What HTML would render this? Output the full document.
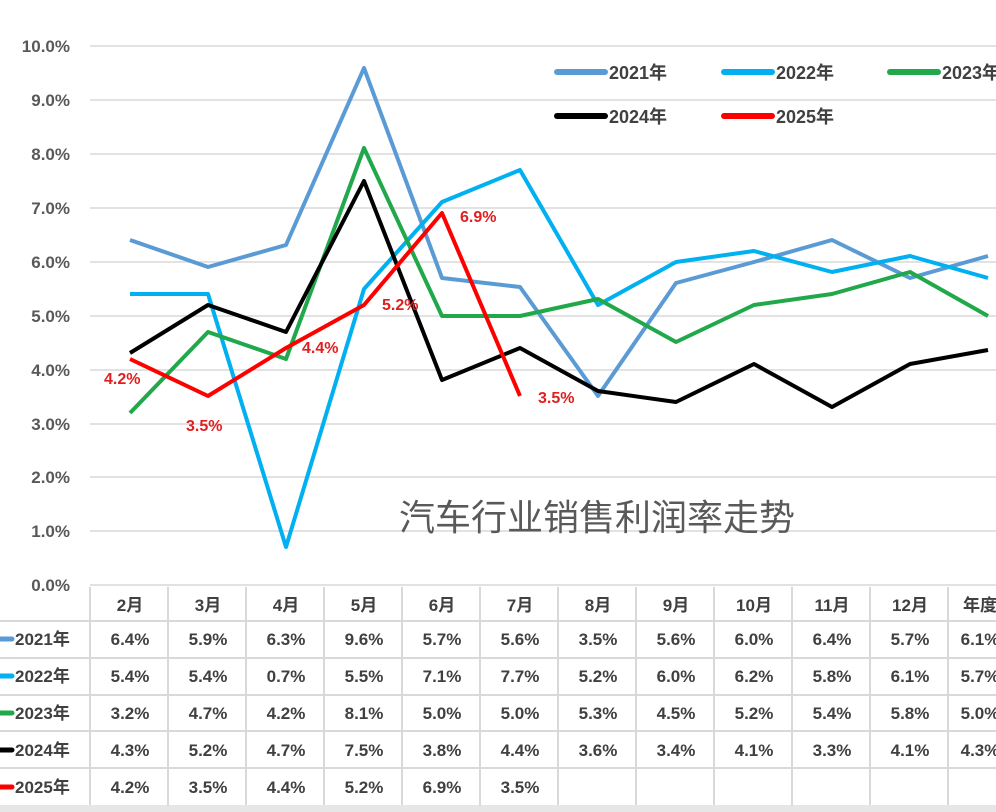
<!DOCTYPE html>
<html><head><meta charset="utf-8"><style>
body{margin:0;background:#fff;width:996px;height:812px;overflow:hidden}
svg{display:block}
text{font-family:"Liberation Sans","Noto Sans CJK SC",sans-serif}
</style></head><body>
<svg width="996" height="812" viewBox="0 0 996 812">
<rect width="996" height="812" fill="#fff"/>
<g stroke="#d9d9d9" stroke-width="1.5">
<line x1="90" y1="46" x2="996" y2="46"/><line x1="90" y1="100" x2="996" y2="100"/>
<line x1="90" y1="154" x2="996" y2="154"/><line x1="90" y1="208" x2="996" y2="208"/>
<line x1="90" y1="262" x2="996" y2="262"/><line x1="90" y1="316" x2="996" y2="316"/>
<line x1="90" y1="370" x2="996" y2="370"/><line x1="90" y1="424" x2="996" y2="424"/>
<line x1="90" y1="477" x2="996" y2="477"/><line x1="90" y1="531" x2="996" y2="531"/>
<line x1="90" y1="585" x2="996" y2="585"/>
</g>
<g font-size="17" font-weight="bold" fill="#595959" text-anchor="end">
<text x="70" y="52">10.0%</text><text x="70" y="106">9.0%</text><text x="70" y="160">8.0%</text>
<text x="70" y="214">7.0%</text><text x="70" y="268">6.0%</text><text x="70" y="322">5.0%</text>
<text x="70" y="376">4.0%</text><text x="70" y="430">3.0%</text><text x="70" y="483">2.0%</text>
<text x="70" y="537">1.0%</text><text x="70" y="591">0.0%</text>
</g>
<text x="597" y="530" font-size="36" fill="#595959" text-anchor="middle">汽车行业销售利润率走势</text>
<g stroke-width="6" stroke-linecap="round">
<line x1="557" y1="72" x2="605" y2="72" stroke="#5b9bd5"/>
<line x1="724" y1="72" x2="772" y2="72" stroke="#00b0f0"/>
<line x1="890" y1="72" x2="938" y2="72" stroke="#20a84a"/>
<line x1="557" y1="116" x2="605" y2="116" stroke="#000"/>
<line x1="724" y1="116" x2="772" y2="116" stroke="#f00"/>
</g>
<g font-size="18" font-weight="bold" fill="#404040">
<text x="609" y="79">2021年</text><text x="776" y="79">2022年</text><text x="942" y="79">2023年</text>
<text x="609" y="123">2024年</text><text x="776" y="123">2025年</text>
</g>
<g fill="none" stroke-width="4" stroke-linejoin="round">
<polyline stroke="#5b9bd5" points="130,240 208,267 286,245 364,68 442,278 520,287 598,396 676,283 754,262 832,240 910,278 988,256"/>
<polyline stroke="#00b0f0" points="130,294 208,294 286,547 364,289 442,202 520,170 598,305 676,262 754,251 832,272 910,256 988,278"/>
<polyline stroke="#20a84a" points="130,413 208,332 286,359 364,148 442,316 520,316 598,299 676,342 754,305 832,294 910,272 988,316"/>
<polyline stroke="#000" points="130,353 208,305 286,332 364,181 442,380 520,348 598,391 676,402 754,364 832,407 910,364 988,350"/>
<polyline stroke="#f00" points="130,359 208,396 286,348 364,305 442,213 520,396"/>
</g>
<g font-size="16" font-weight="bold" fill="#e02020">
<text x="104" y="384">4.2%</text><text x="186" y="431">3.5%</text><text x="302" y="353">4.4%</text>
<text x="382" y="310">5.2%</text><text x="460" y="222">6.9%</text><text x="538" y="403">3.5%</text>
</g>
<g stroke="#d9d9d9" stroke-width="2">
<line x1="0" y1="621" x2="996" y2="621"/><line x1="0" y1="658" x2="996" y2="658"/>
<line x1="0" y1="695" x2="996" y2="695"/><line x1="0" y1="731" x2="996" y2="731"/>
<line x1="0" y1="768" x2="996" y2="768"/>
<line x1="90" y1="587" x2="90" y2="805"/><line x1="168" y1="587" x2="168" y2="805"/>
<line x1="246" y1="587" x2="246" y2="805"/><line x1="324" y1="587" x2="324" y2="805"/>
<line x1="402" y1="587" x2="402" y2="805"/><line x1="480" y1="587" x2="480" y2="805"/>
<line x1="558" y1="587" x2="558" y2="805"/><line x1="636" y1="587" x2="636" y2="805"/>
<line x1="714" y1="587" x2="714" y2="805"/><line x1="792" y1="587" x2="792" y2="805"/>
<line x1="870" y1="587" x2="870" y2="805"/><line x1="948" y1="587" x2="948" y2="805"/>
</g>
<rect x="0" y="805" width="996" height="7" fill="#e6e6e6"/>
<g stroke-width="5" stroke-linecap="round">
<line x1="0" y1="639" x2="12" y2="639" stroke="#5b9bd5"/>
<line x1="0" y1="676" x2="12" y2="676" stroke="#00b0f0"/>
<line x1="0" y1="713" x2="12" y2="713" stroke="#20a84a"/>
<line x1="0" y1="750" x2="12" y2="750" stroke="#000"/>
<line x1="0" y1="787" x2="12" y2="787" stroke="#f00"/>
</g>
<g font-size="17" font-weight="bold" fill="#404040">
<text x="15" y="645">2021年</text><text x="15" y="682">2022年</text><text x="15" y="719">2023年</text>
<text x="15" y="756">2024年</text><text x="15" y="793">2025年</text>
</g>
<g font-size="17" font-weight="bold" fill="#404040" text-anchor="middle">
<text x="130" y="611">2月</text><text x="208" y="611">3月</text><text x="286" y="611">4月</text><text x="364" y="611">5月</text><text x="442" y="611">6月</text><text x="520" y="611">7月</text><text x="598" y="611">8月</text><text x="676" y="611">9月</text><text x="754" y="611">10月</text><text x="832" y="611">11月</text><text x="910" y="611">12月</text><text x="980" y="611">年度</text>
<text x="130" y="645">6.4%</text><text x="208" y="645">5.9%</text><text x="286" y="645">6.3%</text><text x="364" y="645">9.6%</text><text x="442" y="645">5.7%</text><text x="520" y="645">5.6%</text><text x="598" y="645">3.5%</text><text x="676" y="645">5.6%</text><text x="754" y="645">6.0%</text><text x="832" y="645">6.4%</text><text x="910" y="645">5.7%</text><text x="980" y="645">6.1%</text>
<text x="130" y="682">5.4%</text><text x="208" y="682">5.4%</text><text x="286" y="682">0.7%</text><text x="364" y="682">5.5%</text><text x="442" y="682">7.1%</text><text x="520" y="682">7.7%</text><text x="598" y="682">5.2%</text><text x="676" y="682">6.0%</text><text x="754" y="682">6.2%</text><text x="832" y="682">5.8%</text><text x="910" y="682">6.1%</text><text x="980" y="682">5.7%</text>
<text x="130" y="719">3.2%</text><text x="208" y="719">4.7%</text><text x="286" y="719">4.2%</text><text x="364" y="719">8.1%</text><text x="442" y="719">5.0%</text><text x="520" y="719">5.0%</text><text x="598" y="719">5.3%</text><text x="676" y="719">4.5%</text><text x="754" y="719">5.2%</text><text x="832" y="719">5.4%</text><text x="910" y="719">5.8%</text><text x="980" y="719">5.0%</text>
<text x="130" y="756">4.3%</text><text x="208" y="756">5.2%</text><text x="286" y="756">4.7%</text><text x="364" y="756">7.5%</text><text x="442" y="756">3.8%</text><text x="520" y="756">4.4%</text><text x="598" y="756">3.6%</text><text x="676" y="756">3.4%</text><text x="754" y="756">4.1%</text><text x="832" y="756">3.3%</text><text x="910" y="756">4.1%</text><text x="980" y="756">4.3%</text>
<text x="130" y="793">4.2%</text><text x="208" y="793">3.5%</text><text x="286" y="793">4.4%</text><text x="364" y="793">5.2%</text><text x="442" y="793">6.9%</text><text x="520" y="793">3.5%</text>
</g>
</svg>
</body></html>
